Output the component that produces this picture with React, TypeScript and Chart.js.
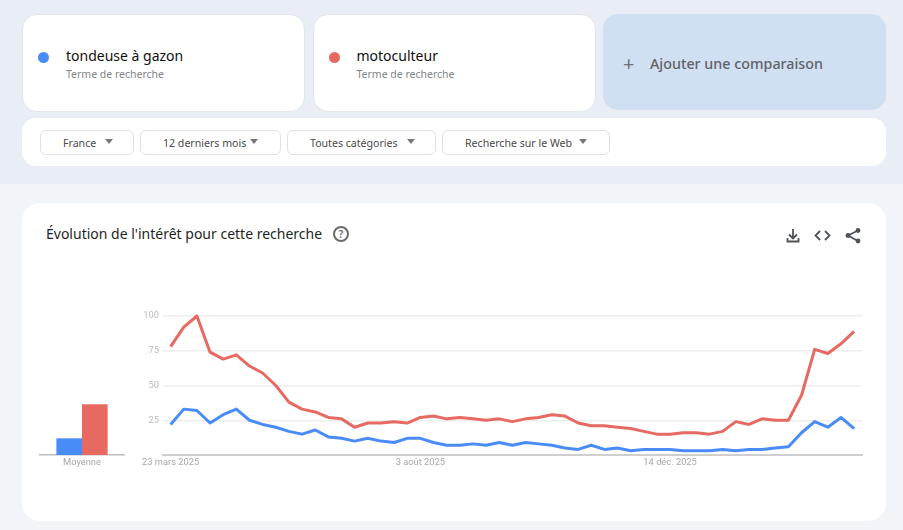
import { useEffect, useRef, type CSSProperties } from 'react';
import { Chart, registerables } from 'chart.js';

Chart.register(...registerables);

const weeks = [
  '23 mars 2025', '30 mars 2025', '6 avr. 2025', '13 avr. 2025', '20 avr. 2025', '27 avr. 2025',
  '4 mai 2025', '11 mai 2025', '18 mai 2025', '25 mai 2025', '1 juin 2025', '8 juin 2025',
  '15 juin 2025', '22 juin 2025', '29 juin 2025', '6 juil. 2025', '13 juil. 2025', '20 juil. 2025',
  '27 juil. 2025', '3 août 2025', '10 août 2025', '17 août 2025', '24 août 2025', '31 août 2025',
  '7 sept. 2025', '14 sept. 2025', '21 sept. 2025', '28 sept. 2025', '5 oct. 2025', '12 oct. 2025',
  '19 oct. 2025', '26 oct. 2025', '2 nov. 2025', '9 nov. 2025', '16 nov. 2025', '23 nov. 2025',
  '30 nov. 2025', '7 déc. 2025', '14 déc. 2025', '21 déc. 2025', '28 déc. 2025', '4 janv. 2026',
  '11 janv. 2026', '18 janv. 2026', '25 janv. 2026', '1 févr. 2026', '8 févr. 2026', '15 févr. 2026',
  '22 févr. 2026', '1 mars 2026', '8 mars 2026', '15 mars 2026', '22 mars 2026',
];
const tondeuse = [
  22, 33, 32, 23, 29, 33, 25, 22, 20, 17, 15, 18, 13, 12, 10, 12, 10, 9, 12, 12, 9, 7, 7, 8, 7, 9,
  7, 9, 8, 7, 5, 4, 7, 4, 5, 3, 4, 4, 4, 3, 3, 3, 4, 3, 4, 4, 5, 6, 16, 24, 20, 27, 19,
];
const motoculteur = [
  78, 92, 100, 74, 69, 72, 64, 59, 50, 38, 33, 31, 27, 26, 20, 23, 23, 24, 23, 27, 28, 26, 27, 26, 25, 26,
  24, 26, 27, 29, 28, 23, 21, 21, 20, 19, 17, 15, 15, 16, 16, 15, 17, 24, 22, 26, 25, 25, 43, 76, 73, 80, 89,
];
const shownWeeks = [0, 19, 38];
const averages = [12, 36.5];
const BLUE = '#4a8cf7';
const RED = '#e66a62';

const SANS = '"Noto Sans", sans-serif';
const AXIS_FONT = { family: 'Roboto', size: 9.3 };

function box(left: number, top: number, width: number, height: number, radius: number, extra: CSSProperties = {}): CSSProperties {
  return { position: 'absolute', left, top, width, height, borderRadius: radius, boxSizing: 'border-box', ...extra };
}

function text(left: number, top: number, size: number, color: string): CSSProperties {
  return { position: 'absolute', left, top, fontSize: size, lineHeight: '20px', color, whiteSpace: 'nowrap' };
}

function Chip({ left, width, label, arrow }: { left: number; width: number; label: string; arrow: number }) {
  return (
    <div style={box(left, 130, width, 25, 6, { background: '#fff', border: '1px solid #dfe1e5' })}>
      <span style={{ ...text(22, 2, 10.6, '#4a4a4a') }}>{label}</span>
      <div style={{ position: 'absolute', right: arrow, top: 8, width: 0, height: 0, borderLeft: '4.5px solid transparent', borderRight: '4.5px solid transparent', borderTop: '5px solid #777' }} />
    </div>
  );
}

function TermCard({ left, dot, term }: { left: number; dot: string; term: string }) {
  return (
    <div style={box(left, 14, 283, 98, 15, { background: '#fff', border: '1px solid #e3e5ea' })}>
      <div style={box(15, 37, 11, 11, 6, { background: dot })} />
      <span style={text(43, 31, 14, '#111')}>{term}</span>
      <span style={text(43, 49, 10.5, '#80868b')}>Terme de recherche</span>
    </div>
  );
}

function TrendChart() {
  const chartRef = useRef<HTMLCanvasElement>(null);

  useEffect(() => {
    if (!chartRef.current) return;
    const chart = new Chart(chartRef.current, {
      type: 'line',
      data: {
        datasets: [
          { label: 'motoculteur', data: motoculteur.map((y, x) => ({ x, y })), borderColor: RED },
          { label: 'tondeuse à gazon', data: tondeuse.map((y, x) => ({ x, y })), borderColor: BLUE },
        ],
      },
      options: {
        animation: false,
        responsive: false,
        layout: { padding: { top: 16, right: 28, bottom: 0, left: 0 } },
        elements: { point: { radius: 0 }, line: { borderWidth: 3, tension: 0, borderJoinStyle: 'round' } },
        datasets: { line: { clip: false } },
        plugins: { legend: { display: false }, tooltip: { enabled: false } },
        scales: {
          x: {
            type: 'linear',
            min: -0.58,
            max: 52.6,
            afterFit: (s: any) => { s.height = 20; },
            afterBuildTicks: (s: any) => { s.ticks = shownWeeks.map((value) => ({ value })); },
            grid: { display: false, drawTicks: false },
            border: { display: true, color: '#cfcfcf', width: 2 },
            ticks: {
              autoSkip: false,
              maxRotation: 0,
              padding: 2,
              color: '#a8a8a8',
              font: AXIS_FONT,
              callback: (v: any) => weeks[v],
            },
          },
          y: {
            min: 0,
            max: 100,
            afterFit: (s: any) => { s.width = 33; },
            grid: { color: '#eeeeee', lineWidth: 1.5, drawTicks: false },
            border: { display: false },
            ticks: {
              stepSize: 25,
              padding: 4,
              color: '#bcbcbc',
              font: AXIS_FONT,
              callback: (v: any) => (v === 0 ? '' : v),
            },
          },
        },
      },
    });
    return () => chart.destroy();
  }, []);

  return <canvas ref={chartRef} width={760} height={175} style={{ position: 'absolute', left: 130, top: 300, width: 760, height: 175 }} />;
}

function AverageChart() {
  const chartRef = useRef<HTMLCanvasElement>(null);

  useEffect(() => {
    if (!chartRef.current) return;
    const chart = new Chart(chartRef.current, {
      type: 'bar',
      data: {
        labels: ['Moyenne'],
        datasets: [
          { label: 'tondeuse à gazon', data: [averages[0]], backgroundColor: BLUE },
          { label: 'motoculteur', data: [averages[1]], backgroundColor: RED },
        ],
      },
      options: {
        animation: false,
        responsive: false,
        layout: { padding: { top: 16, right: 6, bottom: 0, left: 10 } },
        plugins: { legend: { display: false }, tooltip: { enabled: false } },
        datasets: { bar: { barPercentage: 1, categoryPercentage: 0.61 } },
        scales: {
          x: {
            afterFit: (s: any) => { s.height = 20; },
            grid: { display: false, drawTicks: false },
            border: { display: true, color: '#bdbdbd', width: 1.5 },
            ticks: { padding: 2, color: '#a8a8a8', font: AXIS_FONT },
          },
          y: { display: false, min: 0, max: 100 },
        },
      },
    });
    return () => chart.destroy();
  }, []);

  return <canvas ref={chartRef} width={100} height={175} style={{ position: 'absolute', left: 30, top: 300, width: 100, height: 175 }} />;
}

function Icons() {
  const stroke = { fill: 'none', stroke: '#4f5358', strokeWidth: 1.8 };
  return (
    <svg width={80} height={24} style={{ position: 'absolute', left: 782, top: 223 }}>
      <path d="M11 6v9M7 11.500l4 4 4-4M5.500 15v3.500h11V15" {...stroke} />
      <path d="M38 8l-4.500 4.500L38 17M43 8l4.500 4.500L43 17" {...stroke} />
      <path d="M76 7.500l-10 5 10 5.500" {...stroke} />
      <circle cx={76} cy={7.500} r={2.400} fill="#4f5358" />
      <circle cx={66} cy={12.500} r={2.400} fill="#4f5358" />
      <circle cx={76} cy={18} r={2.400} fill="#4f5358" />
    </svg>
  );
}

export default function App() {
  return (
    <div style={{ position: 'absolute', left: 0, top: 0, width: 903, height: 530, overflow: 'hidden', background: '#f1f4f9', fontFamily: SANS }}>
      <div style={box(0, 0, 903, 184, 0, { background: '#e8edf6' })} />
      <TermCard left={22} dot={BLUE} term="tondeuse à gazon" />
      <TermCard left={312.500} dot={RED} term="motoculteur" />
      <div style={box(603, 14, 283, 96, 15, { background: '#d0dff2' })}>
        <span style={text(20, 40, 20, '#6b7076')}>+</span>
        <span style={{ ...text(47, 40, 14.3, '#5f6368'), fontWeight: 500 }}>Ajouter une comparaison</span>
      </div>
      <div style={box(22, 118, 864, 48, 14, { background: '#fff' })} />
      <Chip left={40} width={94} label="France" arrow={20} />
      <Chip left={140} width={141} label="12 derniers mois" arrow={22} />
      <Chip left={287} width={149} label="Toutes catégories" arrow={20} />
      <Chip left={442} width={168} label="Recherche sur le Web" arrow={22} />
      <div style={box(22, 203, 864, 318, 18, { background: '#fff' })} />
      <span style={text(46, 224, 14, '#1f1f1f')}>Évolution de l'intérêt pour cette recherche</span>
      <div style={box(333, 226, 16, 16, 8, { border: '2px solid #6b6b6b', color: '#6b6b6b', fontSize: 10.5, lineHeight: '12px', textAlign: 'center', fontWeight: 600 })}>?</div>
      <Icons />
      <AverageChart />
      <TrendChart />
    </div>
  );
}
